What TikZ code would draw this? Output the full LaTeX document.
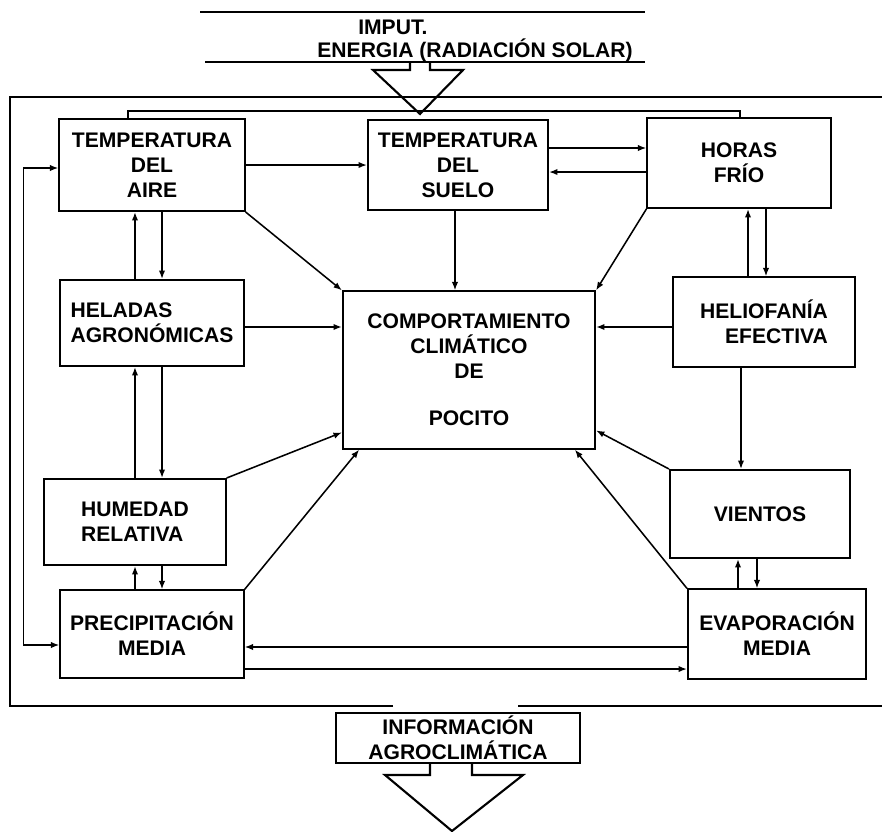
\documentclass[tikz,border=0pt]{standalone}
\usepackage{fontspec}
\setmainfont{Liberation Sans}
\usetikzlibrary{positioning}
\usetikzlibrary{arrows.meta}
\tikzset{x=0.025cm, y=-0.025cm,
>={Latex[length=6pt,width=4.5pt]},
box/.style={ % Cajas del diagrama
draw,
line width=1.4pt,
align=center,
inner sep=1pt,
font=\bfseries\fontsize{15}{17.7}\selectfont},
titulo/.style={font=\bfseries\fontsize{15}{17.7}\selectfont, inner sep=0pt},
conn/.style={draw, line width=1.1pt}, % Conectores
marco/.style={draw, line width=1.5pt}}

\begin{document}
\begin{tikzpicture}
\useasboundingbox (0,0) rectangle (882,831);
% entrada
\draw[marco] (200,12) -- (645,12);
\node[titulo, anchor=west] (imput) at (358,27) {IMPUT.};
\node[titulo] (energia) at (475,50) {ENERGIA (RADIACIÓN SOLAR)};
\draw[marco] (205,62) -- (645,62);
\draw[marco] (410,62) -- (410,70) -- (373,70) -- (420,114) -- (463,70) -- (430,70) -- (430,62);
% marco
\draw[marco] (393,706) -- (10,706) -- (10,97) -- (882,97);
\draw[marco] (518,706) -- (882,706);
% cajas
\node[box, minimum width=4.63cm, minimum height=2.3cm] (aire) at (152,165) {TEMPERATURA\\DEL\\AIRE};
\node[box, minimum width=4.5cm, minimum height=2.25cm] (suelo) at (458,165) {TEMPERATURA\\DEL\\SUELO};
\node[box, minimum width=4.58cm, minimum height=2.25cm] (horas) at (739,163) {HORAS\\FRÍO};
\node[box, align=left, minimum width=4.58cm, minimum height=2.15cm] (heladas) at (152,323) {HELADAS\\AGRONÓMICAS};
\node[box, minimum width=6.3cm, minimum height=3.93cm] (central) at (469,370) {COMPORTAMIENTO\\CLIMÁTICO\\DE\\[16pt]POCITO};
\node[box, align=right, minimum width=4.55cm, minimum height=2.23cm] (helio) at (764,322) {HELIOFANÍA\\EFECTIVA};
\node[box, align=left, minimum width=4.53cm, minimum height=2.15cm] (humedad) at (135,522) {HUMEDAD\\RELATIVA};
\node[box, minimum width=4.5cm, minimum height=2.2cm] (vientos) at (760,514) {VIENTOS};
\node[box, minimum width=4.58cm, minimum height=2.18cm] (precip) at (152,634) {PRECIPITACIÓN\\MEDIA};
\node[box, minimum width=4.45cm, minimum height=2.23cm] (evap) at (777,634) {EVAPORACIÓN\\MEDIA};
\node[box, minimum width=6.08cm, minimum height=1.25cm] (info) at (458,738) {INFORMACIÓN\\AGROCLIMÁTICA};
% salida
\draw[marco] (430,763) -- (430,775) -- (385,775) -- (452,831) -- (523,775) -- (472,775) -- (472,763);
% conectores
\draw[conn] ([xshift=-0.6cm]aire.north) -- ++(0,-7) -| ([xshift=0.03cm]horas.north);
\draw[conn, ->] (aire.east) -- (suelo.west);
\draw[conn, ->] ([yshift=0.425cm]suelo.east) -- ([yshift=0.375cm]horas.west);
\draw[conn, ->] ([yshift=-0.225cm]horas.west) -- ([yshift=-0.175cm]suelo.east);
\draw[conn, <->] ([yshift=-0.075cm]aire.west) -- ++(-35,0) |- ([yshift=-0.275cm]precip.west);
\draw[conn, ->] ([xshift=-0.425cm]heladas.north) -- ([xshift=-0.425cm]aire.south);
\draw[conn, ->] ([xshift=0.25cm]aire.south) -- ([xshift=0.25cm]heladas.north);
\draw[conn, ->] ([xshift=0cm]humedad.north) -- ([xshift=-0.425cm]heladas.south);
\draw[conn, ->] ([xshift=0.25cm]heladas.south) -- ([xshift=0.675cm]humedad.north);
\draw[conn, ->] ([xshift=-0.425cm]precip.north) -- ([xshift=0cm]humedad.south);
\draw[conn, ->] ([xshift=0.675cm]humedad.south) -- ([xshift=0.25cm]precip.north);
\draw[conn, ->] ([yshift=-0.1cm]heladas.east) -- ([yshift=1.075cm]central.west);
\draw[conn, ->] ([yshift=-0.125cm]helio.west) -- ([yshift=1.075cm]central.east);
\draw[conn, ->] (aire.south east) -- (central.north west);
\draw[conn, ->] ([xshift=-0.075cm]suelo.south) -- ([xshift=-0.35cm]central.north);
\draw[conn, ->] (horas.south west) -- (central.north east);
\draw[conn, ->] ([xshift=-0.4cm]helio.north) -- ([xshift=0.225cm]horas.south);
\draw[conn, ->] ([xshift=0.675cm]horas.south) -- ([xshift=0.05cm]helio.north);
\draw[conn, ->] ([xshift=-0.575cm]helio.south) -- ([xshift=-0.475cm]vientos.north);
\draw[conn, ->] (humedad.north east) -- ([yshift=0.43cm]central.south west);
\draw[conn, ->] (vientos.north west) -- ([yshift=0.48cm]central.south east);
\draw[conn, ->] (precip.north east) -- ([xshift=0.43cm]central.south west);
\draw[conn, ->] (evap.north west) -- ([xshift=-0.53cm]central.south east);
\draw[conn, ->] ([xshift=-0.975cm]evap.north) -- ([xshift=-0.55cm]vientos.south);
\draw[conn, ->] ([xshift=-0.075cm]vientos.south) -- ([xshift=-0.5cm]evap.north);
\draw[conn, ->] ([yshift=-0.325cm]evap.west) -- ([yshift=-0.325cm]precip.east);
\draw[conn, ->] ([yshift=-0.875cm]precip.east) -- ([yshift=-0.875cm]evap.west);
\end{tikzpicture}
\end{document}
